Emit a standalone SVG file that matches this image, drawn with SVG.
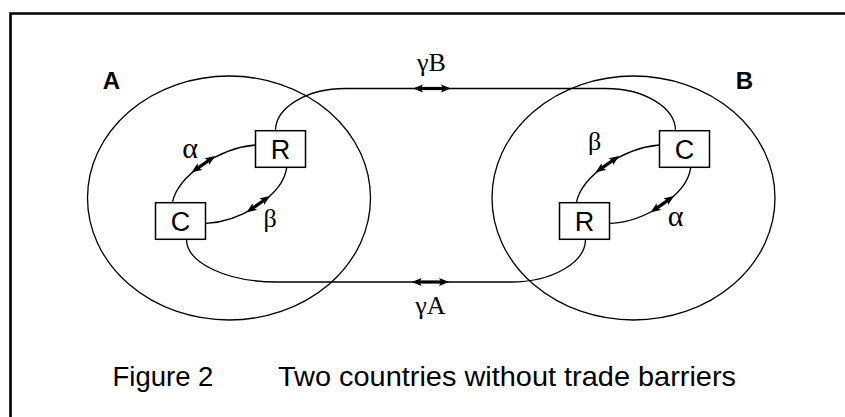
<svg xmlns="http://www.w3.org/2000/svg" width="845" height="417" viewBox="0 0 845 417">
<style>
.frame{fill:none;stroke:#000;stroke-width:2.6}
.country{fill:none;stroke:#000;stroke-width:1.3}
.box{fill:#fff;stroke:#000;stroke-width:1.5}
.conn{fill:none;stroke:#000;stroke-width:1.3}
.flow{fill:none;stroke:#000;stroke-width:3.2;marker-start:url(#head);marker-end:url(#head)}
.sans{font-family:"Liberation Sans",Arial,sans-serif;fill:#000}
.greek{font-family:"Liberation Serif","Times New Roman",serif;font-size:26px;fill:#000;text-anchor:middle}
.alpha{font-size:30px}
.beta{font-size:26px}
.boxlbl{font-family:"Liberation Sans",Arial,sans-serif;font-size:27px;fill:#000;text-anchor:middle}
.title{font-family:"Liberation Sans",Arial,sans-serif;font-size:24px;font-weight:bold;fill:#000}
</style>
<defs>
<marker id="head" markerUnits="userSpaceOnUse" markerWidth="11" markerHeight="9" viewBox="0 0 11 9" refX="3.5" refY="4.5" orient="auto-start-reverse">
<path d="M0,0.5 L10,4.5 L0,8.5 L2.2,4.5 z" fill="#000"/>
</marker>
</defs>
<rect width="845" height="417" fill="#fff"/>
<path class="frame" d="M10.5,417 V13.5 H845"/>

<g id="countryA">
<ellipse class="country" cx="229" cy="198" rx="141.5" ry="122"/>
<text class="title" x="102.7" y="89">A</text>
</g>
<g id="countryB">
<ellipse class="country" cx="633.5" cy="198" rx="141.5" ry="122"/>
<text class="title" x="735.8" y="89">B</text>
</g>

<g id="connectors">
<path class="conn" d="M275.5,130.7 C275.5,107.4 306.9,88.5 345.5,88.5 H605.5 C644.1,88.5 675.5,107.4 675.5,130.7"/>
<path class="conn" d="M186.5,239.3 C186.5,262.9 226.8,282 276.5,282 H510.5 C551.9,282 585.5,262.9 585.5,239.3"/>
<path class="conn" d="M255.5,145 C220,148 178,175 172.3,202.7"/>
<path class="conn" d="M286.7,167.7 C283,195 241,222 206,223.3"/>
<path class="conn" d="M659.5,145 C624,148 582,175 576.3,202.7"/>
<path class="conn" d="M690.7,167.7 C687,195 645,222 610,223.3"/>
<path class="flow" d="M419.5,88.5 H444.5"/>
<path class="flow" d="M418.2,282 H442.5"/>
<path class="flow" d="M197,168.6 L209.7,159.7"/>
<path class="flow" d="M252,208.6 L264.7,199.7"/>
<path class="flow" d="M601,168.6 L613.7,159.7"/>
<path class="flow" d="M656,208.6 L668.7,199.7"/>
<text class="greek" x="431.5" y="71">γB</text>
<text class="greek" x="430.5" y="314">γA</text>
<text class="greek alpha" x="190" y="157.5">α</text>
<text class="greek beta" x="270" y="226.5">β</text>
<text class="greek beta" x="594.5" y="150">β</text>
<text class="greek alpha" x="675.5" y="226">α</text>
</g>

<g id="A_R">
<rect class="box" x="255.5" y="130.7" width="50" height="36.6"/>
<text class="boxlbl" x="280.5" y="159.3">R</text>
</g>
<g id="A_C">
<rect class="box" x="155.5" y="202.7" width="50" height="36.6"/>
<text class="boxlbl" x="180.5" y="231.3">C</text>
</g>
<g id="B_C">
<rect class="box" x="659.5" y="130.7" width="50" height="36.6"/>
<text class="boxlbl" x="684.5" y="159.3">C</text>
</g>
<g id="B_R">
<rect class="box" x="559.5" y="202.7" width="50" height="36.6"/>
<text class="boxlbl" x="584.5" y="231.3">R</text>
</g>

<g id="caption">
<text class="sans" x="112.5" y="385.7" font-size="27.5">Figure 2</text>
<text class="sans" x="278" y="385.7" font-size="27.5" textLength="458" lengthAdjust="spacingAndGlyphs">Two countries without trade barriers</text>
</g>
</svg>
